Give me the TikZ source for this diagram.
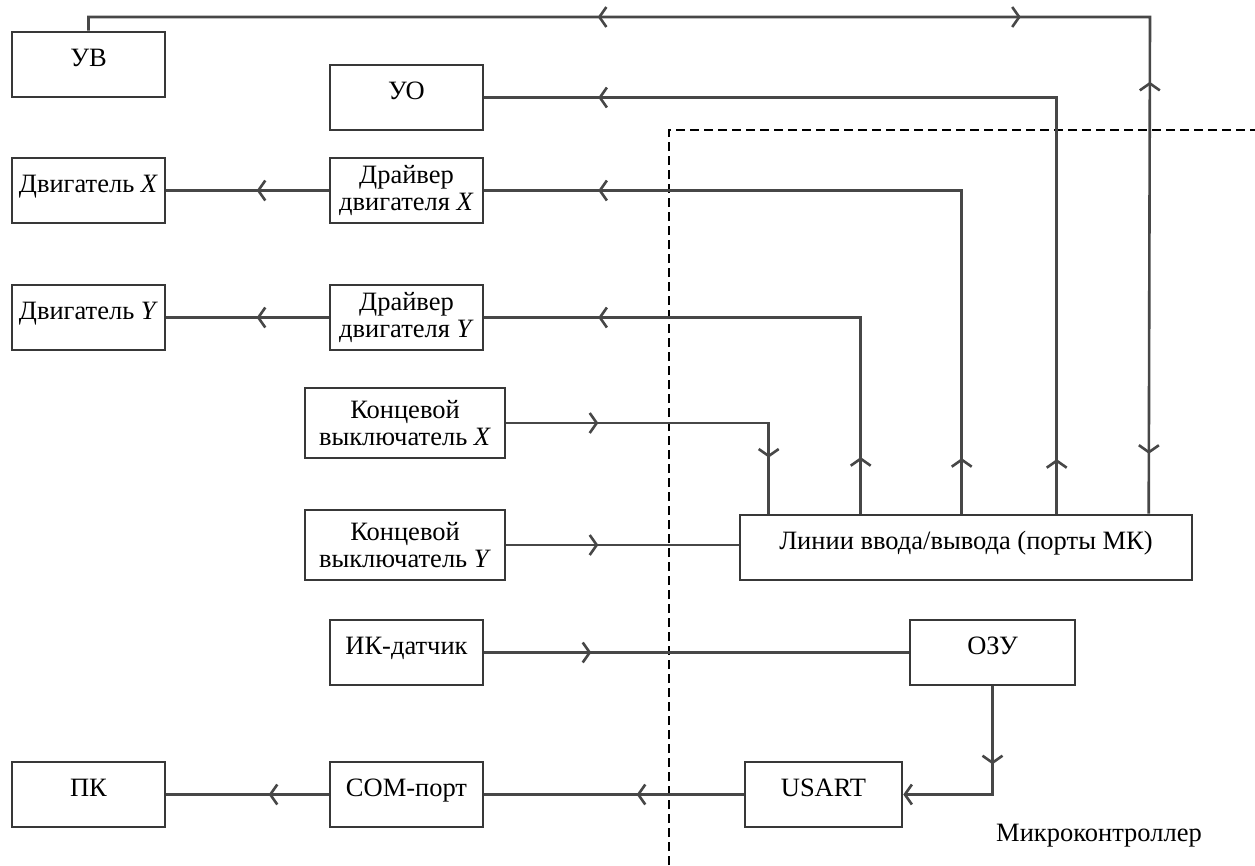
\documentclass[tikz,border=0pt]{standalone}
\usepackage{fontspec}
\setmainfont{Liberation Serif}
\usetikzlibrary{arrows.meta,decorations.markings}
\tikzset{
  blk/.style={draw=black!78, line width=2.6pt, minimum width=153pt, minimum height=65pt,
    inner sep=1pt, font=\fontsize{26.5}{27}\selectfont, align=center, fill=white},
  one/.style={text height=18pt, text depth=14pt},
  conn/.style={draw=black!72, color=black!72, line width=2.6pt},
  fwd/.style={postaction={decorate, decoration={markings,
      mark=at position #1 with {\arrow{Straight Barb[length=7pt,width=20pt]}}}}},
  bwd/.style={postaction={decorate, decoration={markings,
      mark=at position #1 with {\arrowreversed{Straight Barb[length=7pt,width=20pt]}}}}},
  endtip/.style={-{Straight Barb[length=7pt,width=20pt]}},
  border/.style={draw=black, line width=2pt, dash pattern=on 9pt off 5pt},
  lbl/.style={font=\fontsize{26.5}{27}\selectfont}
}
\begin{document}
\begin{tikzpicture}[x=1pt,y=-1pt]
\useasboundingbox (0,0) rectangle (1255,865);
% microcontroller boundary
\draw[border] (669,865) -- (669,130) -- (1255,130);
\node[lbl, anchor=center] (mc) at (1099,836) {Микроконтроллер};

\node[blk, one] (uv) at (88.5,64.5) {УВ};
\node[blk, one] (uo) at (406.5,97.5) {УО};
\node[blk, one] (dvx) at (88.5,190.5) {Двигатель \textit{X}};
\node[blk] (drx) at (406.5,190.5) {Драйвер\\двигателя \textit{X}};
\node[blk, one] (dvy) at (88.5,317.5) {Двигатель \textit{Y}};
\node[blk] (dry) at (406.5,317.5) {Драйвер\\двигателя \textit{Y}};
\node[blk, minimum width=200pt, minimum height=70pt] (kx) at (405,423) {Концевой\\выключатель \textit{X}};
\node[blk, minimum width=200pt, minimum height=70pt] (ky) at (405,545) {Концевой\\выключатель \textit{Y}};
\node[blk, one, minimum width=452pt] (io) at (966,547.5) {Линии ввода/вывода (порты МК)};
\node[blk, one] (ik) at (406.5,652.5) {ИК-датчик};
\node[blk, one, minimum width=165pt] (ozu) at (992.5,652.5) {ОЗУ};
\node[blk, one, minimum width=157pt] (usart) at (823.5,794.5) {USART};
\node[blk, one] (com) at (406.5,794.5) {COM-порт};
\node[blk, one] (pk) at (88.5,794.5) {ПК};

\coordinate (topc) at (1150,17);
\draw[conn, bwd=523pt, fwd=946pt, bwd=1140pt, fwd=1512pt]
  (uv.north) |- (topc) -- ([xshift=410pt]io.north west);
\draw[conn, bwd=114pt, bwd=934pt] (uo.east) -| ([xshift=318pt]io.north west);
\draw[conn, bwd=114pt, bwd=745pt] (drx.east) -| ([xshift=223pt]io.north west);
\draw[conn, bwd=114pt, bwd=516pt] (dry.east) -| ([xshift=122pt]io.north west);
\draw[conn, fwd=92pt, fwd=297pt] (kx.east) -| ([xshift=30pt]io.north west);
\draw[conn, fwd=92pt] (ky.east) -- (ky.east -| io.west);
\draw[conn, fwd=72pt] (drx.west) -- (dvx.east);
\draw[conn, fwd=72pt] (dry.west) -- (dvy.east);
\draw[conn, fwd=107pt] (ik.east) -- (ozu.west);
\draw[conn, fwd=78pt, endtip] (ozu.south) |- (usart.east);
\draw[conn, fwd=107pt] (usart.west) -- (com.east);
\draw[conn, fwd=60pt] (com.west) -- (pk.east);
\end{tikzpicture}
\end{document}
